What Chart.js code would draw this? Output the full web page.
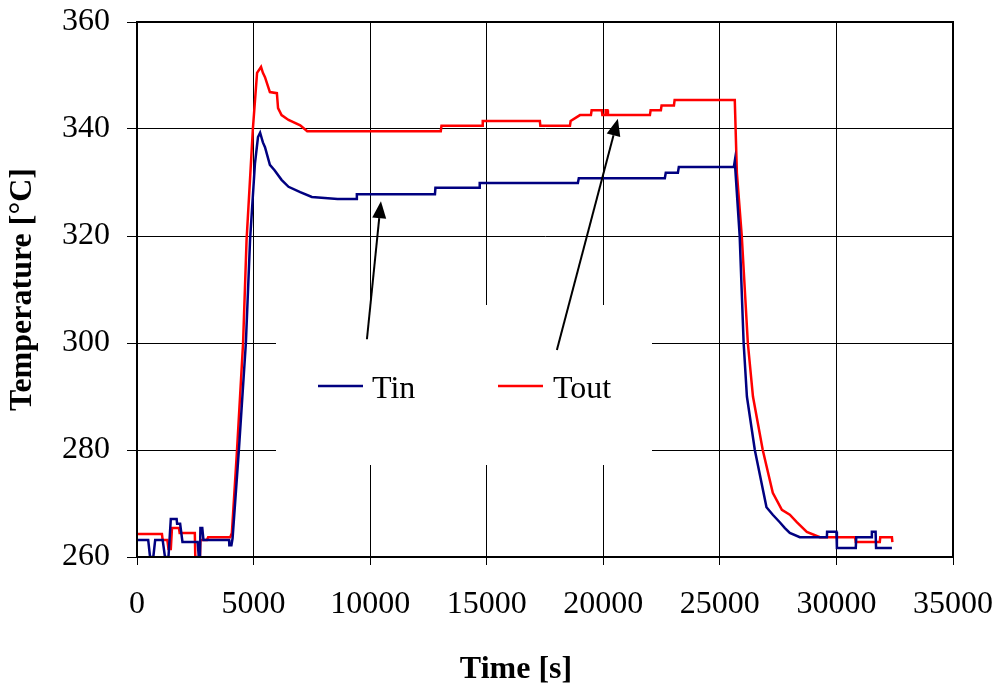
<!DOCTYPE html>
<html>
<head>
<meta charset="utf-8">
<script src="https://cdn.jsdelivr.net/npm/chart.js@4.4.1/dist/chart.umd.min.js"></script>
<style>
    html, body { margin: 0; padding: 0; background: #fff; }
    #wrap { width: 1001px; height: 691px; }
</style>
</head>
<body>
<div id="wrap"><canvas id="tempChart" width="1001" height="691"></canvas></div>
<script>
// ==================== DATA ====================

const xTicks = [0, 5000, 10000, 15000, 20000, 25000, 30000, 35000];
const yTicks = [260, 280, 300, 320, 340, 360];

const tinTime = [0, 480, 560, 700, 780, 1100, 1200, 1350, 1450, 1700, 1720, 1850, 1950, 2600, 2650, 2700, 2720, 2800, 2850, 3950, 3960, 4050,
    4100, 4370, 4670, 4850, 5060, 5190, 5280, 5400, 5490, 5700, 5900, 6200, 6500, 7000, 7500, 8600, 9400, 9430,
    12780, 12800, 14670, 14700, 18910, 18950, 22640, 22680, 23200, 23240, 25600, 25640,
    25850, 26020, 26160, 26500, 27000, 27270, 27570, 27790, 28000, 28430, 29590, 29600, 30000, 30020, 30830, 30850,
    31500, 31520, 31680, 31700, 32380];
const tinTemp = [263.2, 263.2, 260, 260, 263.2, 263.2, 260, 260, 267.1, 267.1, 266.2, 266.2, 262.8, 262.8, 260, 260, 265.4, 265.4, 263.2, 263.2, 262.2, 262.2,
    263.5, 280, 300, 319.3, 333.6, 338.5, 339.3, 337.5, 336.6, 333.3, 332.3, 330.5, 329.2, 328.2, 327.3, 326.9, 326.9, 327.8,
    327.8, 329.0, 329.0, 329.9, 329.9, 330.8, 330.8, 331.8, 331.8, 332.9, 332.9, 334,
    320, 300, 290, 280, 269.3, 267.9, 266.5, 265.4, 264.5, 263.7, 263.7, 264.7, 264.7, 261.7, 261.7, 263.7,
    263.7, 264.7, 264.7, 261.7, 261.7];

const toutTime = [0, 1070, 1100, 1300, 1350, 1450, 1500, 1800, 1830, 2480, 2500, 2700, 2720, 3000, 3050, 4000,
    4070, 4290, 4550, 4700, 4970, 5150, 5320, 5400, 5490, 5700, 6000, 6050, 6200, 6500, 7000, 7300,
    13030, 13060, 14800, 14830, 17280, 17300, 18570, 18600, 19000, 19470, 19500, 19940, 19960, 20080, 20100, 20180, 20200,
    22000, 22030, 22470, 22500, 23030, 23060, 25640,
    25730, 25940, 26200, 26420, 26840, 27270, 27660, 28000, 28300, 28730, 29290, 30800, 30830, 31860, 31880, 32380, 32400];
const toutTemp = [264.3, 264.3, 263.2, 263.2, 261.5, 261.5, 265.4, 265.4, 264.5, 264.5, 260, 260, 263.2, 263.2, 263.7, 263.7,
    264.5, 280, 300, 319.3, 340, 350.5, 351.6, 350.5, 349.7, 346.9, 346.7, 343.9, 342.6, 341.7, 340.7, 339.6,
    339.6, 340.6, 340.6, 341.5, 341.5, 340.6, 340.6, 341.5, 342.6, 342.6, 343.5, 343.5, 342.6, 342.6, 343.5, 343.5, 342.6,
    342.6, 343.5, 343.5, 344.4, 344.4, 345.4, 345.4,
    331.8, 320, 300, 290, 280, 272, 268.8, 267.9, 266.5, 264.7, 263.7, 263.7, 262.8, 262.8, 263.7, 263.7, 262.8];

// arrows: [time, temp] from -> to (tip)
const arrowFrom = [[9862, 300.7], [18010, 298.7]];
const arrowTo = [[10463, 326.5], [20625, 341.9]];

// ==================== HELPERS ====================

const FONT = "'Liberation Serif', 'Times New Roman', serif";

function toPoints(xs, ys) {
    return xs.map((x, i) => ({ x: x, y: ys[i] }));
}

// ==================== PLUGIN ====================

const decorPlugin = {
    id: 'decor',
    beforeDatasetsDraw(chart) {
        // white legend background hiding grid lines
        const ctx = chart.ctx;
        ctx.save();
        ctx.fillStyle = '#fff';
        ctx.fillRect(276, 305, 376, 160);
        ctx.restore();
    },
    afterDatasetsDraw(chart) {
        const ctx = chart.ctx;
        const xs = chart.scales.x;
        const ys = chart.scales.y;
        const area = chart.chartArea;

        ctx.save();
        // plot border
        ctx.strokeStyle = '#000';
        ctx.lineWidth = 2;
        ctx.strokeRect(area.left, area.top, area.right - area.left, area.bottom - area.top);

        // arrows
        ctx.fillStyle = '#000';
        ctx.lineWidth = 2;
        arrowFrom.forEach((from, i) => {
            const x1 = xs.getPixelForValue(from[0]);
            const y1 = ys.getPixelForValue(from[1]);
            const x2 = xs.getPixelForValue(arrowTo[i][0]);
            const y2 = ys.getPixelForValue(arrowTo[i][1]);
            const ang = Math.atan2(y2 - y1, x2 - x1);
            const len = 17, half = 7;
            const bx = x2 - len * Math.cos(ang);
            const by = y2 - len * Math.sin(ang);
            ctx.beginPath();
            ctx.moveTo(x1, y1);
            ctx.lineTo(bx, by);
            ctx.stroke();
            ctx.beginPath();
            ctx.moveTo(x2, y2);
            ctx.lineTo(bx + half * Math.sin(ang), by - half * Math.cos(ang));
            ctx.lineTo(bx - half * Math.sin(ang), by + half * Math.cos(ang));
            ctx.closePath();
            ctx.fill();
        });

        // legend
        const items = [[318, 372], [498, 553]];
        ctx.font = '32px ' + FONT;
        ctx.textBaseline = 'alphabetic';
        ctx.textAlign = 'left';
        chart.data.datasets.forEach((ds, i) => {
            ctx.strokeStyle = ds.borderColor;
            ctx.lineWidth = 2.5;
            ctx.beginPath();
            ctx.moveTo(items[i][0], 386);
            ctx.lineTo(items[i][0] + 45, 386);
            ctx.stroke();
            ctx.fillStyle = '#000';
            ctx.fillText(ds.label, items[i][1], 398);
        });

        // x axis title
        ctx.font = 'bold 32px ' + FONT;
        ctx.textAlign = 'center';
        ctx.textBaseline = 'middle';
        ctx.fillText('Time [s]', 516, 670);
        ctx.restore();
    }
};

// ==================== CHART ====================

const tempChart = new Chart(document.getElementById('tempChart'), {
    type: 'line',
    data: {
        datasets: [
            {
                label: 'Tin',
                data: toPoints(tinTime, tinTemp),
                borderColor: '#000080',
                borderWidth: 2.5,
                pointRadius: 0,
                tension: 0,
                fill: false
            },
            {
                label: 'Tout',
                data: toPoints(toutTime, toutTemp),
                borderColor: '#ff0000',
                borderWidth: 2.5,
                pointRadius: 0,
                tension: 0,
                fill: false
            }
        ]
    },
    options: {
        responsive: false,
        animation: false,
        layout: {
            padding: { left: 0, top: 22, right: 48, bottom: 0 }
        },
        plugins: {
            legend: { display: false },
            tooltip: { enabled: false }
        },
        scales: {
            x: {
                type: 'linear',
                min: 0,
                max: 35000,
                afterBuildTicks: (axis) => { axis.ticks = xTicks.map(v => ({ value: v })); },
                afterFit: (axis) => {
                    axis.height = 134;
                    axis.paddingLeft = 0;
                    axis.paddingRight = 0;
                },
                grid: { color: '#000', lineWidth: 1, tickLength: 8 },
                border: { color: '#000', width: 2 },
                ticks: {
                    color: '#000',
                    padding: 20,
                    maxRotation: 0,
                    font: { family: FONT, size: 32 },
                    callback: (v) => String(v)
                },
                title: { display: false }
            },
            y: {
                min: 260,
                max: 360,
                afterBuildTicks: (axis) => { axis.ticks = yTicks.map(v => ({ value: v })); },
                afterFit: (axis) => {
                    axis.width = 137;
                    axis.paddingTop = 0;
                    axis.paddingBottom = 0;
                },
                grid: { color: '#000', lineWidth: 1, tickLength: 10 },
                border: { color: '#000', width: 2 },
                ticks: {
                    color: '#000',
                    padding: 17,
                    font: { family: FONT, size: 32 },
                    callback: (v) => String(v)
                },
                title: {
                    display: true,
                    text: 'Temperature [°C]',
                    color: '#000',
                    font: { family: FONT, size: 32, weight: 'bold' },
                    padding: { top: 4, bottom: 0 }
                }
            }
        }
    },
    plugins: [decorPlugin]
});
</script>
</body>
</html>
